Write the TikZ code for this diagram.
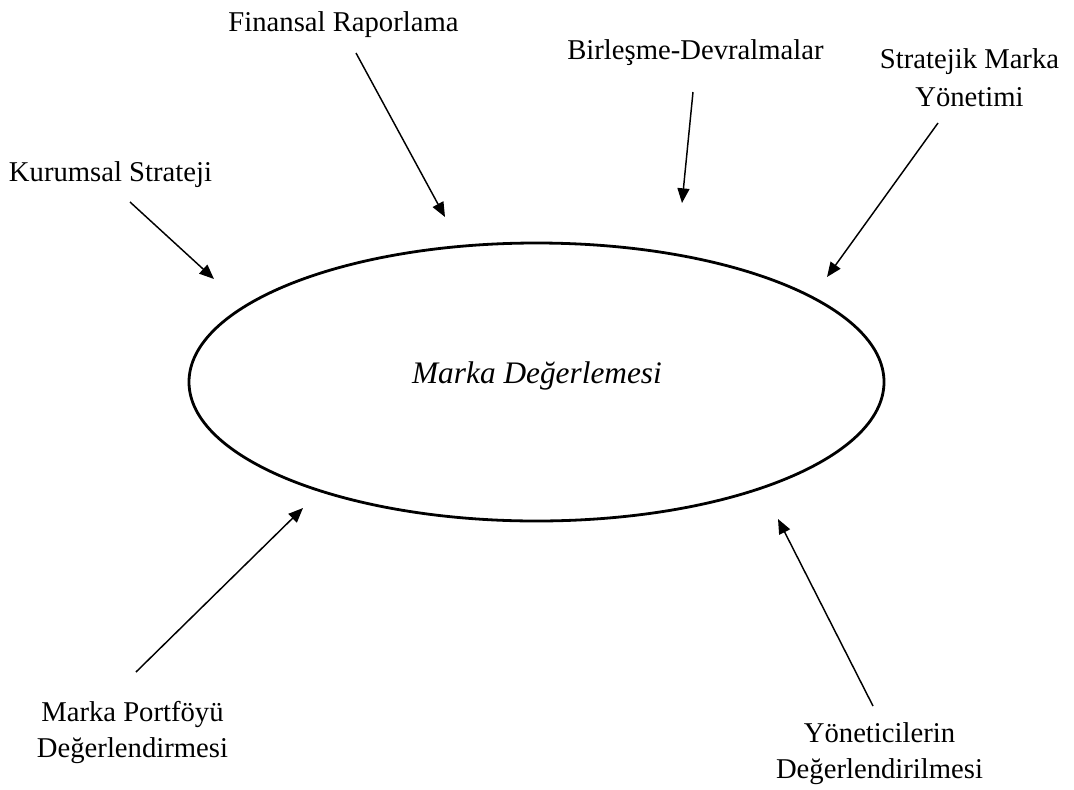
\documentclass[tikz,border=0pt]{standalone}
\usepackage{fontspec}
\setmainfont{Liberation Serif}
\usetikzlibrary{arrows.meta}
\begin{document}
\begin{tikzpicture}[x=0.75pt, y=-0.75pt,
  lbl/.style={align=center, inner sep=0pt, anchor=base,
    font=\fontsize{21.5pt}{27pt}\selectfont},
  feed/.style={line width=1.1pt, -{Triangle[length=11pt, width=9pt]}}
]
\useasboundingbox (0,0) rectangle (1074,789);

% central ellipse
\draw[line width=2.1pt] (536.5,382) ellipse [x radius=347.5, y radius=139];
\node[inner sep=0pt, anchor=base, font=\fontsize{23.5pt}{28pt}\selectfont\itshape]
  (center) at (537,383) {Marka Değerlemesi};

% surrounding labels (base anchor = baseline of the last line)
\node[lbl] (fin) at (343.5,31) {Finansal Raporlama};
\node[lbl] (bir) at (695.5,59) {Birleşme-Devralmalar};
\node[lbl, font=\fontsize{21.5pt}{28.5pt}\selectfont] (str) at (969.5,106) {Stratejik Marka\\Yönetimi};
\node[lbl] (kur) at (110.5,181) {Kurumsal Strateji};
\node[lbl] (por) at (132.5,757) {Marka Portföyü\\Değerlendirmesi};
\node[lbl] (yon) at (879.5,778) {Yöneticilerin\\Değerlendirilmesi};

% arrow end points
\coordinate (finS) at (356,53);   \coordinate (finE) at (445,217);
\coordinate (birS) at (693,92);   \coordinate (birE) at (682,203);
\coordinate (strS) at (938,123);  \coordinate (strE) at (827,277);
\coordinate (kurS) at (130,202);  \coordinate (kurE) at (214,279);
\coordinate (porS) at (136,672);  \coordinate (porE) at (303,508);
\coordinate (yonS) at (873,706);  \coordinate (yonE) at (778,519);

\draw[feed] (finS) -- (finE);
\draw[feed] (birS) -- (birE);
\draw[feed] (strS) -- (strE);
\draw[feed] (kurS) -- (kurE);
\draw[feed] (porS) -- (porE);
\draw[feed] (yonS) -- (yonE);
\end{tikzpicture}
\end{document}
